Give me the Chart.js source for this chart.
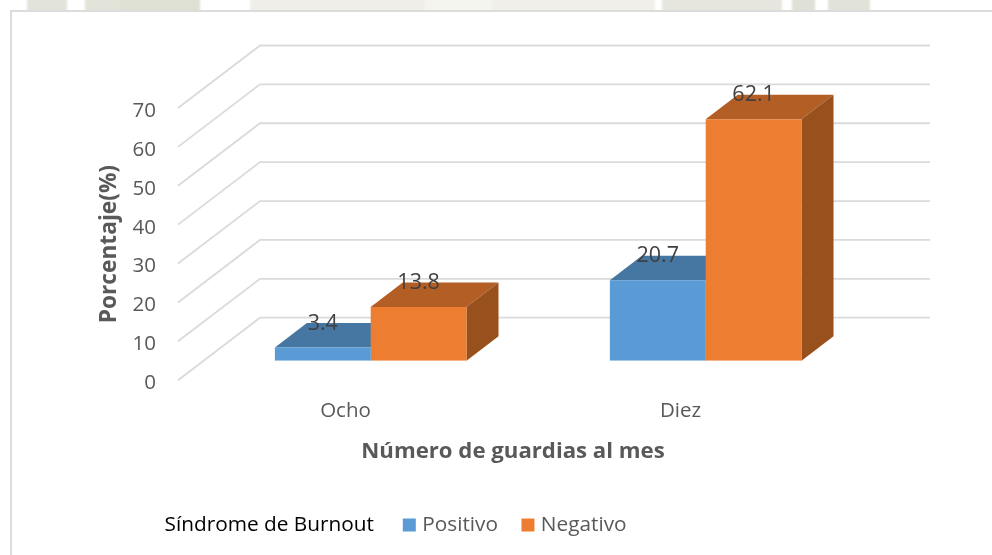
<!DOCTYPE html>
<html lang="es"><head><meta charset="utf-8">
<style>
html,body{margin:0;padding:0;background:#fff;width:992px;height:555px;overflow:hidden}
#strip{position:absolute;left:0;top:-4px;width:992px;height:16px;background:linear-gradient(90deg,#fff 0 27px,#e2e4d9 27px 67px,#fff 67px 85px,#e3e4d9 85px 120px,#dde0d3 120px 200px,#fff 200px 250px,#efeee8 250px 425px,#f5f5f0 425px 492px,#f0efe9 492px 655px,#fff 655px 662px,#e6e6de 662px 782px,#fff 782px 792px,#dfe1d6 792px 815px,#fff 815px 828px,#e1e3d8 828px 870px,#fff 870px);filter:blur(1px)}
#frame{position:absolute;left:10px;top:10px;width:1000px;height:600px;border:2px solid #dcdcdc;box-sizing:border-box;background:#fff}
#wrap{position:absolute;left:0;top:0;width:992px;height:555px}
</style></head><body>
<div id="strip"></div>
<div id="frame"></div>
<div id="wrap"><canvas id="c" width="992" height="555"></canvas></div>
<script src="https://cdn.jsdelivr.net/npm/chart.js@4/dist/chart.umd.js"></script>
<script>
const categories = ['Ocho', 'Diez'];
const positivo = [3.4, 20.7];
const negativo = [13.8, 62.1];
const seriesNames = ['Positivo', 'Negativo'];
const legendTitle = 'Síndrome de Burnout ';
const xTitle = 'Número de guardias al mes';
const yTitle = 'Porcentaje(%)';
const colors = ['#5b9bd5', '#ed7d31'];
const topColors = ['#4676a2', '#b35e25'];
const sideColors = ['#3d6a94', '#98501c'];

const FONT = '"Open Sans","Noto Sans",sans-serif';
const DEPTH_BACK = {x: 82, y: 62.5};   // wall offset from the front plane
const BAR_SHIFT = {x: 25.2, y: 19.5};  // front faces of the bars, from the front plane
const BAR_DEPTH = {x: 32, y: 24.5};    // depth of a bar

const poly = (ctx, pts, fill) => {
  ctx.fillStyle = fill; ctx.beginPath();
  pts.forEach((p, i) => i ? ctx.lineTo(p[0], p[1]) : ctx.moveTo(p[0], p[1]));
  ctx.closePath(); ctx.fill();
};

const walls = {
  id: 'walls',
  afterLayout(chart) {
    chart.legend.left = 121.6; chart.legend.top = 487;
    const y = chart.scales.y, draw = y.drawLabels;
    if (!y._shifted) {
      y._shifted = true;
      y.drawLabels = function (a) {
        const c = this.ctx; c.save(); c.translate(0, 3); draw.call(this, a); c.restore();
      };
    }
  },
  beforeDatasetsDraw(chart) {
    const {ctx, scales: {y}, chartArea: a} = chart;
    ctx.save();
    ctx.strokeStyle = '#dadada'; ctx.lineWidth = 1.8;
    y.ticks.forEach(t => {
      const py = y.getPixelForValue(t.value);
      ctx.beginPath();
      ctx.moveTo(a.left, py);
      ctx.lineTo(a.left + DEPTH_BACK.x, py - DEPTH_BACK.y);
      ctx.lineTo(a.right + DEPTH_BACK.x, py - DEPTH_BACK.y);
      ctx.stroke();
    });
    // tops and sides of the bars, behind the front faces
    chart.data.datasets.forEach((ds, i) => {
      chart.getDatasetMeta(i).data.forEach(b => {
        const l = b.x - b.width / 2 + BAR_SHIFT.x, r = b.x + b.width / 2 + BAR_SHIFT.x;
        const t = b.y - BAR_SHIFT.y, bt = b.base - BAR_SHIFT.y;
        const dx = BAR_DEPTH.x, dy = BAR_DEPTH.y;
        poly(ctx, [[l, t], [r, t], [r + dx, t - dy], [l + dx, t - dy]], topColors[i]);
        poly(ctx, [[r, t], [r + dx, t - dy], [r + dx, bt - dy], [r, bt]], sideColors[i]);
      });
    });
    ctx.restore();
    ctx.save();
    ctx.translate(BAR_SHIFT.x, -BAR_SHIFT.y);
  },
  afterDatasetsDraw(chart) {
    const {ctx} = chart;
    ctx.restore();
    ctx.save();
    ctx.fillStyle = '#404040';
    ctx.font = '21.5px ' + FONT;
    ctx.textAlign = 'center'; ctx.textBaseline = 'middle';
    chart.data.datasets.forEach((ds, i) => {
      chart.getDatasetMeta(i).data.forEach((b, j) => {
        ctx.fillText(String(ds.data[j]), b.x + BAR_SHIFT.x, b.y - BAR_SHIFT.y - 24);
      });
    });
    ctx.restore();
  }
};

new Chart(document.getElementById('c'), {
  type: 'bar',
  data: {
    labels: categories,
    datasets: [
      {label: seriesNames[0], data: positivo, backgroundColor: colors[0]},
      {label: seriesNames[1], data: negativo, backgroundColor: colors[1]}
    ]
  },
  options: {
    responsive: false, animation: false,
    layout: {padding: {top: 108, right: 144, bottom: 0, left: 0}},
    datasets: {bar: {categoryPercentage: 0.572, barPercentage: 1}},
    scales: {
      x: {
        grid: {display: false}, border: {display: false},
        ticks: {color: '#595959', font: {family: FONT, size: 20.5}, padding: 10.5},
        title: {display: true, text: xTitle, color: '#595959',
                font: {family: FONT, size: 22.2, weight: 'bold'}, padding: {top: 0, bottom: 32}},
        afterFit(s) { s.height = 116.5; }
      },
      y: {
        min: 0, max: 70,
        grid: {display: false}, border: {display: false},
        ticks: {stepSize: 10, color: '#595959', font: {family: FONT, size: 20.5}, padding: 14},
        title: {display: true, text: yTitle, color: '#595959',
                font: {family: FONT, size: 22.7, weight: 'bold'}, padding: {top: 95.5, bottom: 0}},
        afterFit(s) { s.width = 178; }
      }
    },
    plugins: {
      tooltip: {enabled: false},
      legend: {
        position: 'bottom', align: 'start',
        labels: {
          boxWidth: 5, boxHeight: 5, padding: 27.5,
          font: {family: FONT, size: 20.8},
          generateLabels() {
            return [
              {text: legendTitle, fillStyle: 'transparent', strokeStyle: 'transparent', lineWidth: 0, fontColor: '#000000', hidden: false},
              {text: seriesNames[0], fillStyle: colors[0], strokeStyle: colors[0], lineWidth: 8, fontColor: '#595959', hidden: false},
              {text: seriesNames[1], fillStyle: colors[1], strokeStyle: colors[1], lineWidth: 8, fontColor: '#595959', hidden: false}
            ];
          }
        }
      }
    }
  },
  plugins: [walls]
});
</script>
</body></html>
